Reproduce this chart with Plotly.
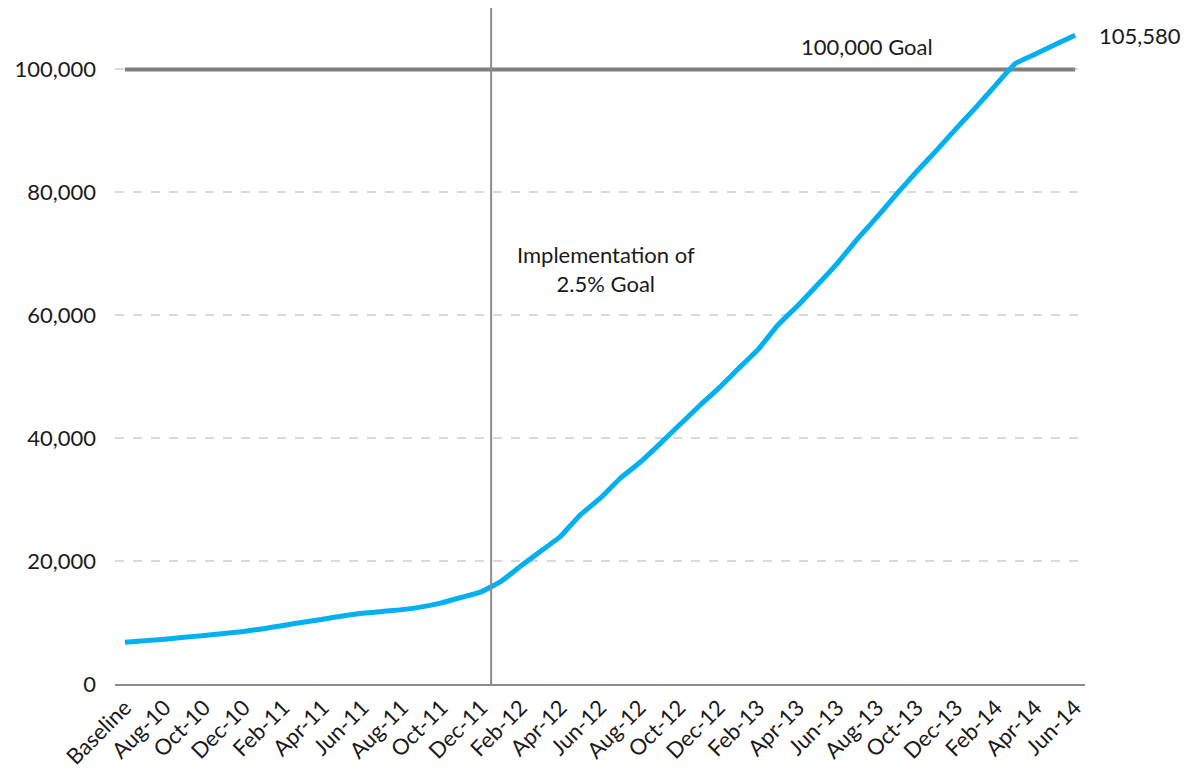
import plotly.graph_objects as go

# monthly categories, Baseline then Jul-10 .. Jun-14
months = ["Baseline"] + [
    f"{m}-{y}"
    for y in ["10", "11", "12", "13", "14"]
    for m in ["Jan", "Feb", "Mar", "Apr", "May", "Jun", "Jul", "Aug", "Sep", "Oct", "Nov", "Dec"]
][6:54]

enrolled = [
    6780, 7050, 7300, 7600, 7900, 8200, 8550, 9000, 9530, 10050,
    10550, 11080, 11500, 11800, 12100, 12550, 13200, 14100, 15000, 16700,
    19200, 21600, 24000, 27500, 30200, 33400, 36000, 39000, 42100, 45200,
    48150, 51340, 54500, 58450, 61600, 65000, 68500, 72400, 76000, 79780,
    83400, 86830, 90400, 93870, 97500, 101000, 102500, 104050, 105580,
]
goal = [100000] * len(months)
goal_label = "100,000 Goal"
last_label = "105,580"
impl_label = "Implementation of<br>2.5% Goal"

# every other month labelled on the axis
tick_labels = months[::2]

font = "Lato, 'Open Sans', sans-serif"
text_col = "#1a1a1a"

fig = go.Figure()

fig.add_trace(go.Scatter(
    x=months, y=goal, mode="lines",
    line=dict(color="#7F7F7F", width=4),
    hoverinfo="skip",
))
fig.add_trace(go.Scatter(
    x=months, y=enrolled, mode="lines",
    line=dict(color="#00B0F0", width=5, shape="spline", smoothing=0.4),
))

# implementation marker between Dec-11 and Jan-12
fig.add_shape(
    type="line", xref="x", yref="paper",
    x0=18.5, x1=18.5, y0=0, y1=1,
    line=dict(color="#8C8C8C", width=2),
)

fig.add_annotation(x=months[37], y=goal[37], text=goal_label, showarrow=False,
                   yshift=23, xshift=10, font=dict(size=22, color=text_col))
fig.add_annotation(x=months[-1], y=enrolled[-1], text=last_label, showarrow=False,
                   xanchor="left", xshift=22, yshift=0, font=dict(size=22, color=text_col))
fig.add_annotation(x=months[24], y=67600, text=impl_label, showarrow=False,
                   xshift=6, font=dict(size=22, color=text_col))

# the page body adds 8px, so margins are shifted to keep the plot area in place
fig.update_layout(
    width=1190, height=776,
    margin=dict(l=107, r=113, t=0, b=100),
    plot_bgcolor="white", paper_bgcolor="white",
    showlegend=False,
    font=dict(family=font, size=22, color=text_col),
    xaxis=dict(
        type="category", categoryorder="array", categoryarray=months,
        tickmode="array", tickvals=tick_labels, ticktext=tick_labels,
        tickangle=-45, tickfont=dict(size=22),
        showgrid=False, showline=True, linecolor="#8C8C8C", linewidth=2,
        ticks="", range=[-0.5, len(months) - 0.5], automargin=False,
    ),
    yaxis=dict(
        range=[0, 110000], tickvals=[0, 20000, 40000, 60000, 80000, 100000],
        tickformat=",", tickfont=dict(size=22),
        showgrid=True, gridcolor="#D9D9D9", griddash="dash", gridwidth=1.5,
        zeroline=False, showline=False, ticks="", ticklabelstandoff=18,
        automargin=False,
    ),
)

fig.write_html("out.html")
